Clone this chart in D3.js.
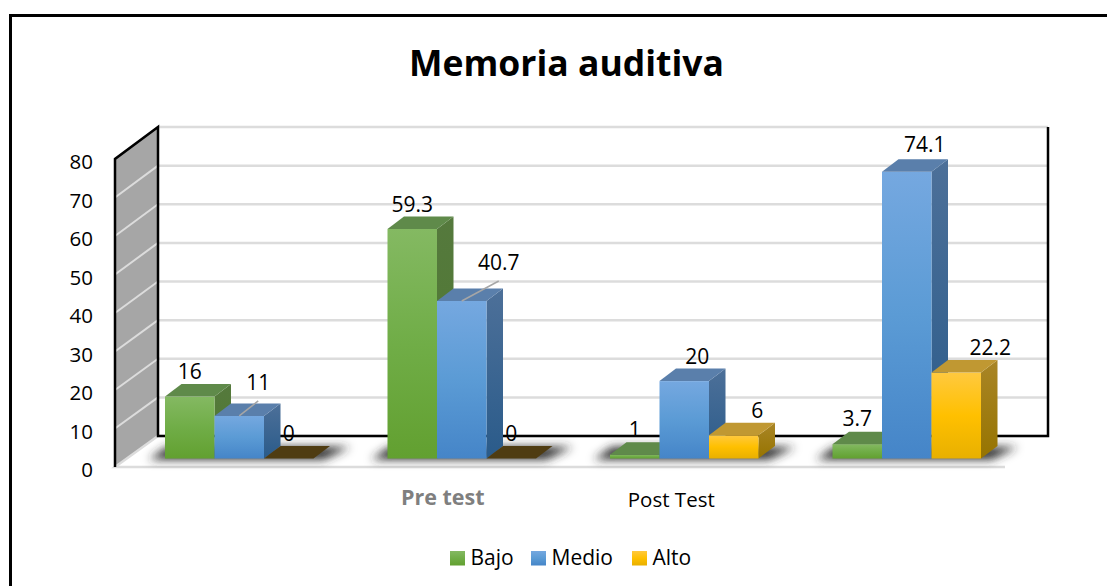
<!DOCTYPE html>
<html>
<head>
<meta charset="utf-8">
<script src="https://cdn.jsdelivr.net/npm/d3@7"></script>
<style>
  body { margin: 0; background: #fff; }
  text { font-family: "Open Sans", sans-serif; fill: #000; }
</style>
</head>
<body>
<div class="chart"></div>
<script>
// Values
var categories = ["", "Pre test", "Post Test", " "];
var seriesNames = ["Bajo", "Medio", "Alto"];
var bajo = [16, 59.3, 1, 3.7];
var medio = [11, 40.7, 20, 74.1];
var alto = [0, 0, 6, 22.2];
var yTicks = [0, 10, 20, 30, 40, 50, 60, 70, 80];

var seriesValues = [bajo, medio, alto];

// Face colours per series
var seriesFront = [
  ["#84b962", "#70ad47", "#62a030"],
  ["#75a8e0", "#5b9bd5", "#4585c8"],
  ["#ffc93f", "#ffc000", "#e8b000"]
];
var seriesTop = ["#5f8a4a", "#5a7fab", "#c09832"];
var seriesSide = [
  ["#55793d", "#4f7a30"],
  ["#4d7099", "#2a5b8a"],
  ["#a98526", "#967400"]
];
var zeroTop = "#4f3c12";

// Label nudges from the default spot above the bar: [series][category] = [dx, dy, leader]
var labelNudge = [
  [[0, -17.5], [0, -17], [0, -17.5], [0, -18]],
  [[19, -26, true], [37, -31, true], [13, -17], [18, -20]],
  [[0, -17.5], [0, -17.5], [23.5, -17], [34, -17.5]]
];

var svgWidth = 1107;
var svgHeight = 586;

// Front and back planes of the 3D box
var wallFront = { x: 115, bottom: 467, top: 159 };
var wallBack = { x: 158, right: 1048, bottom: 436, top: 127 };
var floorRight = 1005;
var barBottom = 458.5;
var depthX = 16.5;
var depthY = 12.5;

var svg = d3
  .select(".chart")
  .append("svg")
  .attr("width", svgWidth)
  .attr("height", svgHeight)
  .style("display", "block");

var defs = svg.append("defs");

function addGradient(id, stops) {
  var grad = defs.append("linearGradient")
    .attr("id", id)
    .attr("x1", 0).attr("y1", 0)
    .attr("x2", 0).attr("y2", 1);
  stops.forEach(function(c, i) {
    grad.append("stop")
      .attr("offset", i / (stops.length - 1))
      .attr("stop-color", c);
  });
}

seriesNames.forEach(function(name, i) {
  addGradient("front" + i, seriesFront[i]);
  addGradient("side" + i, seriesSide[i]);
});

defs.append("filter")
  .attr("id", "floorShadow")
  .attr("x", "-20%").attr("y", "-100%")
  .attr("width", "140%").attr("height", "300%")
  .append("feGaussianBlur")
  .attr("stdDeviation", 5);

// Outer frame, only the top and left edges are in the picture
svg.append("path")
  .attr("d", `M10.5,${svgHeight}V15.5H${svgWidth}`)
  .attr("fill", "none")
  .attr("stroke", "#000")
  .attr("stroke-width", 3);

svg.append("text")
  .attr("x", 566.5)
  .attr("y", 76)
  .attr("text-anchor", "middle")
  .attr("font-size", 35.5)
  .attr("font-weight", 700)
  .text("Memoria auditiva");

// Scales
var yFront = d3.scaleLinear().domain([0, 80]).range([wallFront.bottom, wallFront.top]);
var yBack = d3.scaleLinear().domain([0, 80]).range([wallBack.bottom, wallBack.top]);
var yBar = d3.scaleLinear().domain([0, 80]).range([barBottom, barBottom - 309.6]);

var xGroup = d3.scaleBand().domain(categories).range([128, 1018]);
var xBar = d3.scaleBand().domain(seriesNames).range([37, 185.5]);
var xAxisScale = d3.scaleBand().domain(categories).range([wallFront.x, floorRight]);

// Side wall
var lineGen = d3.line();

svg.append("path")
  .attr("d", lineGen([
    [wallFront.x, yFront(0)], [wallFront.x, yFront(80)],
    [wallBack.x, yBack(80)], [wallBack.x, yBack(0)]
  ]) + "Z")
  .attr("fill", "#a6a6a6");

// Gridlines on back wall and side wall
svg.selectAll(".grid-back")
  .data(yTicks)
  .enter()
  .append("line")
  .attr("class", "grid-back")
  .attr("x1", wallBack.x)
  .attr("x2", wallBack.right)
  .attr("y1", d => yBack(d))
  .attr("y2", d => yBack(d))
  .attr("stroke", "#dcdcdc")
  .attr("stroke-width", 2.5);

svg.selectAll(".grid-side")
  .data(yTicks.slice(1, -1))
  .enter()
  .append("line")
  .attr("class", "grid-side")
  .attr("x1", wallFront.x)
  .attr("x2", wallBack.x)
  .attr("y1", d => yFront(d))
  .attr("y2", d => yBack(d))
  .attr("stroke", "#dcdcdc")
  .attr("stroke-width", 2);

// Floor edges
svg.append("path")
  .attr("d", lineGen([
    [wallBack.x, yBack(0)], [wallFront.x, yFront(0)], [floorRight, yFront(0)]
  ]))
  .attr("fill", "none")
  .attr("stroke", "#dcdcdc")
  .attr("stroke-width", 2.5);

// Black box edges
svg.append("path")
  .attr("d", lineGen([
    [wallFront.x, yFront(0)], [wallFront.x, yFront(80)], [wallBack.x, yBack(80)],
    [wallBack.x, yBack(0)], [wallBack.right, yBack(0)], [wallBack.right, yBack(80)]
  ]))
  .attr("fill", "none")
  .attr("stroke", "#000")
  .attr("stroke-width", 2.5);

// Shadow on the floor under each group
svg.selectAll(".shadow")
  .data(categories)
  .enter()
  .append("path")
  .attr("class", "shadow")
  .attr("d", function(c) {
    var left = xGroup(c) + xBar(seriesNames[0]);
    var right = xGroup(c) + xBar(seriesNames[2]) + xBar.bandwidth();
    return lineGen([
      [left - 16, barBottom + 1], [right + 10, barBottom + 1],
      [right + depthX + 20, barBottom - depthY + 1], [left + 2, barBottom - depthY + 1]
    ]) + "Z";
  })
  .attr("fill", "#2b2b2b")
  .attr("filter", "url(#floorShadow)");

// Bars, one group per category, left to right so that faces overlap correctly
var barsGroup = svg.append("g");

categories.forEach(function(cat, c) {
  seriesNames.forEach(function(name, s) {
    var value = seriesValues[s][c];
    var x0 = xGroup(cat) + xBar(name);
    var x1 = x0 + xBar.bandwidth();
    var yTop = yBar(value);
    var yBase = yBar(0);

    if (value > 0) {
      barsGroup.append("path")
        .attr("d", lineGen([
          [x1, yTop], [x1 + depthX, yTop - depthY],
          [x1 + depthX, yBase - depthY], [x1, yBase]
        ]) + "Z")
        .attr("fill", `url(#side${s})`);

      barsGroup.append("rect")
        .attr("x", x0)
        .attr("y", yTop)
        .attr("width", x1 - x0)
        .attr("height", yBase - yTop)
        .attr("fill", `url(#front${s})`);
    }

    barsGroup.append("path")
      .attr("d", lineGen([
        [x0, yTop], [x1, yTop],
        [x1 + depthX, yTop - depthY], [x0 + depthX, yTop - depthY]
      ]) + "Z")
      .attr("fill", value > 0 ? seriesTop[s] : zeroTop);
  });
});

// Data labels and their leader lines
var labelsGroup = svg.append("g");

categories.forEach(function(cat, c) {
  seriesNames.forEach(function(name, s) {
    var value = seriesValues[s][c];
    var nudge = labelNudge[s][c];
    var barX = xGroup(cat) + xBar(name);
    var cx = barX + xBar.bandwidth() / 2;
    var yTop = yBar(value);

    if (nudge[2]) {
      labelsGroup.append("line")
        .attr("x1", cx)
        .attr("y1", yTop)
        .attr("x2", cx + nudge[0])
        .attr("y2", yTop + nudge[1] + 11)
        .attr("stroke", "#a6a6a6")
        .attr("stroke-width", 1.5);
    }

    labelsGroup.append("text")
      .attr("x", cx + nudge[0])
      .attr("y", yTop + nudge[1])
      .attr("text-anchor", "middle")
      .attr("font-size", 21)
      .text(value);
  });
});

// Value axis
var leftAxis = d3.axisLeft(yFront).tickValues(yTicks).tickSize(0).tickPadding(0);

var yAxisGroup = svg.append("g")
  .attr("transform", "translate(93, 3)")
  .call(leftAxis);
yAxisGroup.select(".domain").remove();
yAxisGroup.selectAll("text")
  .attr("font-size", 20.5)
  .attr("font-family", null);

// Category axis, the labels are styled differently in the picture
var bottomAxis = d3.axisBottom(xAxisScale).tickSize(0).tickPadding(0);

var xAxisGroup = svg.append("g")
  .attr("transform", "translate(0, 490)")
  .call(bottomAxis);
xAxisGroup.select(".domain").remove();
xAxisGroup.selectAll("text")
  .attr("font-family", null)
  .attr("font-size", d => d === "Pre test" ? 21.5 : 20.5)
  .attr("font-weight", d => d === "Pre test" ? 700 : 400)
  .attr("dx", d => d === "Pre test" ? -6 : 0)
  .attr("dy", d => d === "Pre test" ? "0.71em" : "0.85em")
  .style("fill", d => d === "Pre test" ? "#7f7f7f" : "#000");

// Legend
var legendX = d3.scaleOrdinal().domain(seriesNames).range([450, 531, 632]);

var legend = svg.selectAll(".legend")
  .data(seriesNames)
  .enter()
  .append("g")
  .attr("class", "legend")
  .attr("transform", d => `translate(${legendX(d)}, 551)`);

legend.append("rect")
  .attr("width", 15)
  .attr("height", 14.5)
  .attr("fill", (d, i) => `url(#front${i})`);

legend.append("text")
  .attr("x", 20.5)
  .attr("y", 14)
  .attr("font-size", 21)
  .text(d => d);
</script>
</body>
</html>
